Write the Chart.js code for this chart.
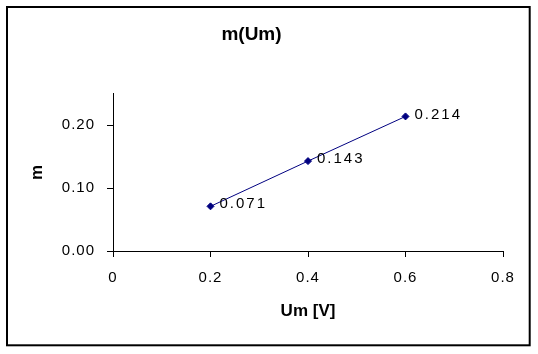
<!DOCTYPE html>
<html>
<head>
<meta charset="utf-8">
<script src="https://cdn.jsdelivr.net/npm/chart.js@4"></script>
<style>
    html, body { margin: 0; padding: 0; background: #ffffff; }
    #wrap { width: 538px; height: 354px; }
</style>
</head>
<body>
<div id="wrap"><canvas id="mChart" width="538" height="354"></canvas></div>
<script>
// Measured values m(Um)
const umValues = [0.2, 0.4, 0.6];
const mValues = [0.071, 0.143, 0.214];
const xTicks = [0, 0.2, 0.4, 0.6, 0.8];
const yTicks = [0, 0.1, 0.2];

const FONT = 'Arial, "Liberation Sans", sans-serif';

// Excel-like frame around the whole chart + letter spacing control
const framePlugin = {
    id: 'frame',
    beforeDraw(chart) {
        chart.ctx.letterSpacing = '0px';
    },
    afterDatasetsDraw(chart) {
        const ctx = chart.ctx;
        const meta = chart.getDatasetMeta(0);
        ctx.save();
        ctx.letterSpacing = '2px';
        ctx.font = '15px ' + FONT;
        ctx.fillStyle = '#000000';
        ctx.textAlign = 'left';
        ctx.textBaseline = 'middle';
        meta.data.forEach((pt, i) => {
            ctx.fillText(mValues[i].toFixed(3), pt.x + 9, pt.y - 2);
        });
        ctx.restore();
        // tick labels are drawn after this point
        ctx.letterSpacing = '1px';
    },
    afterDraw(chart) {
        const ctx = chart.ctx;
        ctx.save();
        ctx.letterSpacing = '0px';
        ctx.strokeStyle = '#000000';
        ctx.lineWidth = 2;
        ctx.strokeRect(7, 7, 522.7, 338.3);
        ctx.restore();
    }
};

new Chart(document.getElementById('mChart'), {
    type: 'scatter',
    data: {
        datasets: [{
            label: 'm',
            data: umValues.map((u, i) => ({ x: u, y: mValues[i] })),
            showLine: true,
            borderColor: '#000080',
            backgroundColor: '#000080',
            borderWidth: 1,
            pointStyle: 'rectRot',
            pointRadius: 3.5,
            pointBorderWidth: 1,
            pointBorderColor: '#000080',
            pointBackgroundColor: '#000080'
        }]
    },
    options: {
        responsive: false,
        animation: false,
        layout: { padding: { left: 0, right: 35, top: 0, bottom: 0 } },
        plugins: {
            legend: { display: false },
            tooltip: { enabled: false },
            title: {
                display: true,
                text: 'm(Um)',
                color: '#000000',
                font: { family: FONT, size: 19, weight: 'bold' },
                padding: { top: 23, bottom: 48 }
            }
        },
        scales: {
            x: {
                type: 'linear',
                min: 0,
                max: 0.8,
                afterBuildTicks: (scale) => { scale.ticks = xTicks.map(v => ({ value: v })); },
                afterFit: (scale) => { scale.height = 103; },
                grid: { display: true, drawOnChartArea: false, tickLength: 6, color: '#000000' },
                border: { display: true, color: '#000000', width: 1 },
                ticks: {
                    z: 1,
                    padding: 12,
                    color: '#000000',
                    font: { family: FONT, size: 15 },
                    maxRotation: 0,
                    callback: (v) => String(v)
                },
                title: {
                    display: true,
                    text: 'Um [V]',
                    color: '#000000',
                    font: { family: FONT, size: 17, weight: 'bold' },
                    padding: { top: 0, bottom: 32 }
                }
            },
            y: {
                type: 'linear',
                min: 0,
                max: 0.25,
                afterBuildTicks: (scale) => { scale.ticks = yTicks.map(v => ({ value: v })); },
                afterFit: (scale) => { scale.width = 113; },
                grid: { display: true, drawOnChartArea: false, tickLength: 6, color: '#000000' },
                border: { display: true, color: '#000000', width: 1 },
                ticks: {
                    z: 1,
                    padding: 12,
                    color: '#000000',
                    font: { family: FONT, size: 15 },
                    callback: (v) => Number(v).toFixed(2)
                },
                title: {
                    display: true,
                    text: 'm',
                    color: '#000000',
                    font: { family: FONT, size: 17, weight: 'bold' },
                    padding: { top: 27, bottom: 0 }
                }
            }
        }
    },
    plugins: [framePlugin]
});
</script>
</body>
</html>
